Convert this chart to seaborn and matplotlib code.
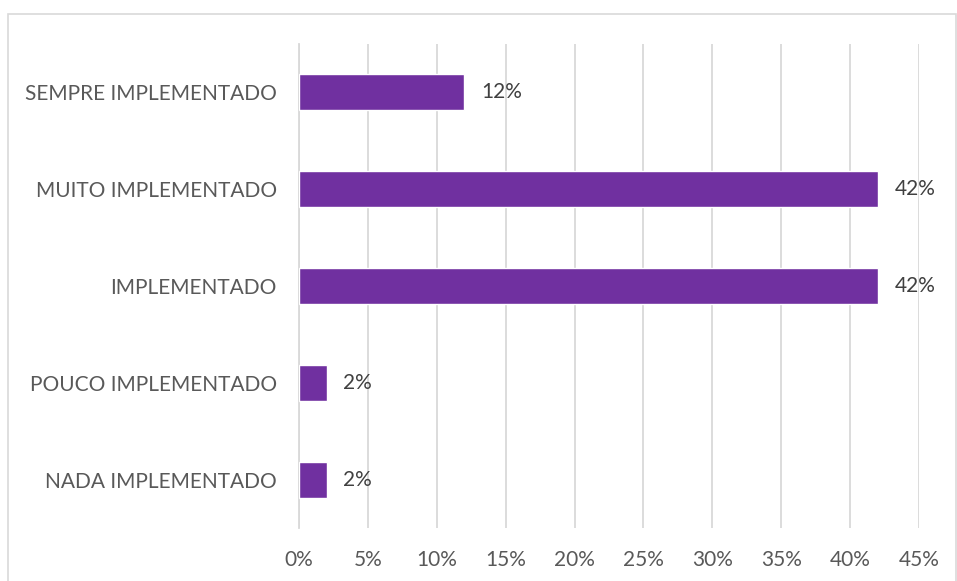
import matplotlib
matplotlib.use('Agg')
import matplotlib.pyplot as plt
import seaborn as sns
import pandas as pd
from matplotlib.patches import Rectangle
from matplotlib.ticker import FuncFormatter

categorias = ['SEMPRE IMPLEMENTADO', 'MUITO IMPLEMENTADO', 'IMPLEMENTADO',
              'POUCO IMPLEMENTADO', 'NADA IMPLEMENTADO']
valores = [12, 42, 42, 2, 2]
ticks = [0, 5, 10, 15, 20, 25, 30, 35, 40, 45]

df = pd.DataFrame({'cat': categorias, 'val': valores})

sns.set_style('white')
plt.rcParams['font.family'] = ['Lato', 'DejaVu Sans']
cinza = '#595959'

fig = plt.figure(figsize=(9.57, 5.81), dpi=100)
ax = fig.add_axes([299/957, 1 - 528/581, 620/957, 484/581])

sns.barplot(data=df, x='val', y='cat', color='#7030A0', width=0.37,
            saturation=1, ax=ax, zorder=3)

for i, v in enumerate(valores):
    ax.annotate(f'{v}%', (v, i), xytext=(12, 0), textcoords='offset points',
                va='center', ha='left', fontsize=15, color='#404040')

ax.set_xlim(0, 45)
ax.set_ylim(4.5, -0.5)
ax.set_xticks(ticks)
ax.xaxis.set_major_formatter(FuncFormatter(lambda x, p: f'{x:.0f}%'))
ax.grid(axis='x', color='#d9d9d9', linewidth=1.3, zorder=0)
ax.set_xlabel('')
ax.set_ylabel('')
for s in ['top', 'right', 'bottom']:
    ax.spines[s].set_visible(False)
ax.spines['left'].set_color('#d9d9d9')
ax.spines['left'].set_linewidth(1.3)
ax.tick_params(axis='both', length=0, labelsize=15, labelcolor=cinza)
ax.tick_params(axis='x', pad=16)
ax.tick_params(axis='y', pad=16)

fig.patches.append(Rectangle((8/957, -0.01), 948/957, 1 - 14/581 + 0.01,
                             transform=fig.transFigure, fill=False,
                             edgecolor='#d9d9d9', linewidth=1.2))

fig.savefig('out.png', dpi=100)
